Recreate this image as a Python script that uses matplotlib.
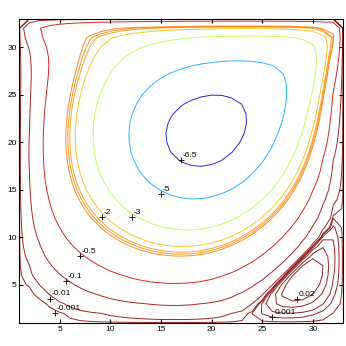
import numpy as np
import matplotlib
matplotlib.use("Agg")
import matplotlib.pyplot as plt

# Lid-driven cavity stream function on a 33x33 grid (Re = 400)
N = 33
Re = 400.0
U = 1.0
h = 1.0 / (N - 1)
n = N - 2
k = np.arange(1, n + 1)
S = np.sqrt(2.0 / (n + 1)) * np.sin(np.pi * np.outer(k, k) / (n + 1))
lam = (2 * np.cos(np.pi * k / (n + 1)) - 2) / h**2
L = lam[:, None] + lam[None, :]

def poisson(f):
    return S @ ((S @ f @ S) / L) @ S

psi = np.zeros((N, N))
w = np.zeros((N, N))
dt = 0.0035
nu = 1.0 / Re
for step in range(20000):
    w[0, :] = -2 * psi[1, :] / h**2
    w[:, 0] = -2 * psi[:, 1] / h**2
    w[:, -1] = -2 * psi[:, -2] / h**2
    w[-1, :] = -2 * psi[-2, :] / h**2 - 2 * U / h
    u = (psi[2:, 1:-1] - psi[:-2, 1:-1]) / (2 * h)
    v = -(psi[1:-1, 2:] - psi[1:-1, :-2]) / (2 * h)
    wx = (w[1:-1, 2:] - w[1:-1, :-2]) / (2 * h)
    wy = (w[2:, 1:-1] - w[:-2, 1:-1]) / (2 * h)
    lapw = (w[1:-1, 2:] + w[1:-1, :-2] + w[2:, 1:-1] + w[:-2, 1:-1] - 4 * w[1:-1, 1:-1]) / h**2
    w[1:-1, 1:-1] += dt * (-u * wx - v * wy + nu * lapw)
    psi[1:-1, 1:-1] = poisson(-w[1:-1, 1:-1])

PSI_SCALE = 75.0
Z = psi * PSI_SCALE
x = np.arange(1, N + 1)
y = np.arange(1, N + 1)

levels = [-6.5, -5, -3, -2, -1.7, -1.6, -1.5, -0.5, -0.1, -0.01, -0.001,
          0.001, 0.005, 0.01, 0.02, 0.03]
label_text = ["-6.5", "-5", "-3", "-2", "-0.5", "-0.1", "-0.01", "-0.001", "0.02", "0.001"]
label_x = [16.96, 14.98, 12.09, 9.12, 7.0, 5.56, 4.01, 4.5, 28.4, 25.98]
label_y = [18.1, 14.55, 12.1, 12.1, 8.0, 5.36, 3.53, 2.02, 3.5, 1.6]

plt.rcParams['font.family'] = ['Liberation Sans', 'DejaVu Sans']
fig = plt.figure(figsize=(3.46, 3.46), dpi=100)
ax = fig.add_axes([0.056, 0.067, 0.936, 0.879])
zmin, zmax = Z.min(), Z.max()
cmap = plt.get_cmap('jet')
cols = [cmap((lv - zmin) / (zmax - zmin)) for lv in levels]
ax.contour(x, y, Z, levels=levels, colors=cols, linewidths=0.7, alpha=0.85)
for t, lx, ly in zip(label_text, label_x, label_y):
    ax.plot(lx, ly, marker='+', color='black', ms=4, mew=0.6)
    ax.text(lx + 0.2, ly + 0.15, t, fontsize=6, ha='left', va='bottom')
ax.set_xlim(1, 33)
ax.set_ylim(1, 33)
ax.set_xticks([5, 10, 15, 20, 25, 30])
ax.set_yticks([5, 10, 15, 20, 25, 30])
ax.tick_params(direction='in', length=3, labelsize=6, top=True, right=True, pad=2)
fig.savefig("out.png", dpi=100)
